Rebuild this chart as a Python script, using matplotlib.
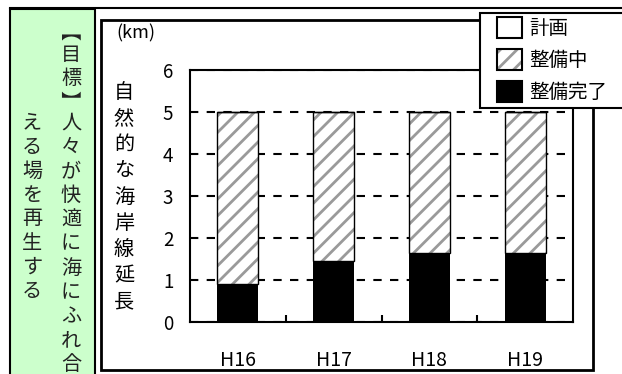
import numpy as np
import matplotlib.pyplot as plt
from matplotlib.patches import Patch, Rectangle
from matplotlib.lines import Line2D

plt.rcParams['font.family'] = ['Noto Sans CJK JP', 'DejaVu Sans']
plt.rcParams['hatch.linewidth'] = 2.0

# data (km)
years = ['H16', 'H17', 'H18', 'H19']
plan = [0, 0, 0, 0]                 # 計画
done = [0.9, 1.45, 1.65, 1.65]      # 整備完了
work = [4.1, 3.55, 3.35, 3.35]      # 整備中
labels = ['計画', '整備中', '整備完了']
ylabel = '自然的な海岸線延長'
goal_1 = '【目標】人々が快適に海にふれ合'
goal_2 = 'える場を再生する'

W, H = 622, 374
def fx(x):
    return x / W
def fy(y):
    return 1 - y / H

def ink_offset(ch, size, rot):
    # where the ink of a turned glyph lands relative to its anchor (pixels, y down)
    f = plt.figure(figsize=(1, 1), dpi=100)
    f.text(0.5, 0.5, ch, ha='center', va='center', rotation=rot,
           rotation_mode='anchor', fontsize=size)
    f.canvas.draw()
    a = np.asarray(f.canvas.buffer_rgba())[:, :, 0]
    plt.close(f)
    ys, xs = np.nonzero(a < 128)
    if len(xs) == 0:
        return 0, 0
    return (xs.min() + xs.max()) / 2 - 50, (ys.min() + ys.max()) / 2 - 50

fig = plt.figure(figsize=(W / 100, H / 100), dpi=100)

# green panel + frames
fig.add_artist(Rectangle((fx(10), fy(390)), fx(95) - fx(10), fy(9) - fy(390),
                         facecolor='#ccffcc', edgecolor='black', lw=1.5))
fig.add_artist(Line2D([fx(10), 1.02], [fy(8), fy(8)], color='black', lw=1.5))
fig.add_artist(Rectangle((fx(101), fy(370)), fx(593) - fx(101), fy(20) - fy(370),
                         fill=False, edgecolor='black', lw=2))

# vertical goal text (brackets turned for vertical writing)
steps = {'【': 18, '目': 23, '標': 17, '】': 28}
y = 37
for ch in goal_1:
    dx, dy, rot = 0, 0, 0
    if ch in '【】':
        rot = -90
        dx, dy = ink_offset(ch, 14.5, rot)
    fig.text(fx(71 - dx), fy(y - dy), ch, ha='center', va='center', rotation=rot,
             rotation_mode='anchor', fontsize=14.5, color='#222222')
    y += steps.get(ch, 24.2)
for i, ch in enumerate(goal_2):
    fig.text(fx(32), fy(123 + i * 24.0), ch, ha='center', va='center',
             fontsize=14.5, color='#222222')

# chart
ax = fig.add_axes([fx(190), fy(322), fx(573) - fx(190), fy(70) - fy(322)])
x = range(len(years))
w = 0.43
ax.bar(x, done, w, color='black', zorder=2)
ax.bar(x, work, w, bottom=done, color='white', edgecolor='#9a9a9a', hatch='//', lw=0, zorder=2)
ax.bar(x, work, w, bottom=done, fill=False, edgecolor='black', lw=1, zorder=3)
top = [d + k for d, k in zip(done, work)]
ax.bar(x, plan, w, bottom=top, color='white', edgecolor='black', lw=1, zorder=3)

ax.set_xlim(-0.5, 3.5)
ax.set_ylim(0, 6)
ax.set_yticks(range(7))
ax.set_xticks(list(x), years)
ax.set_xticks([0.5, 1.5, 2.5], minor=True)
ax.tick_params(axis='y', length=0, pad=12, labelsize=13.5)
ax.tick_params(axis='x', which='major', length=0, pad=20, labelsize=14)
ax.tick_params(axis='x', which='minor', direction='in', length=5, width=1.5)
ax.yaxis.grid(True, color='black', linestyle=(0, (4, 4)), lw=1.5)
ax.set_axisbelow(True)
for s in ax.spines.values():
    s.set_linewidth(1.5)

fig.text(fx(136), fy(33), '(km)', ha='center', va='center', fontsize=13)
for i, ch in enumerate(ylabel):
    fig.text(fx(124), fy(92 + i * 26.25), ch, ha='center', va='center', fontsize=14.5)

# legend
fig.add_artist(Rectangle((fx(480), fy(108)), fx(640) - fx(480), fy(13) - fy(108),
                         facecolor='white', edgecolor='black', lw=1.5, zorder=9))
handles = [Patch(facecolor='white', edgecolor='black', lw=1.5),
           (Patch(facecolor='white', edgecolor='#9a9a9a', hatch='//', lw=0),
            Patch(fill=False, edgecolor='black', lw=1.5)),
           Patch(facecolor='black', edgecolor='black', lw=1.5)]
leg = fig.legend(handles, labels, loc='upper left', bbox_to_anchor=(fx(497), fy(17)),
                 frameon=False, fontsize=14, handlelength=1.3, handleheight=1.3,
                 labelspacing=0.5, handletextpad=0.35, borderaxespad=0, borderpad=0)
leg.set_zorder(10)

fig.savefig('out.png', dpi=100)
